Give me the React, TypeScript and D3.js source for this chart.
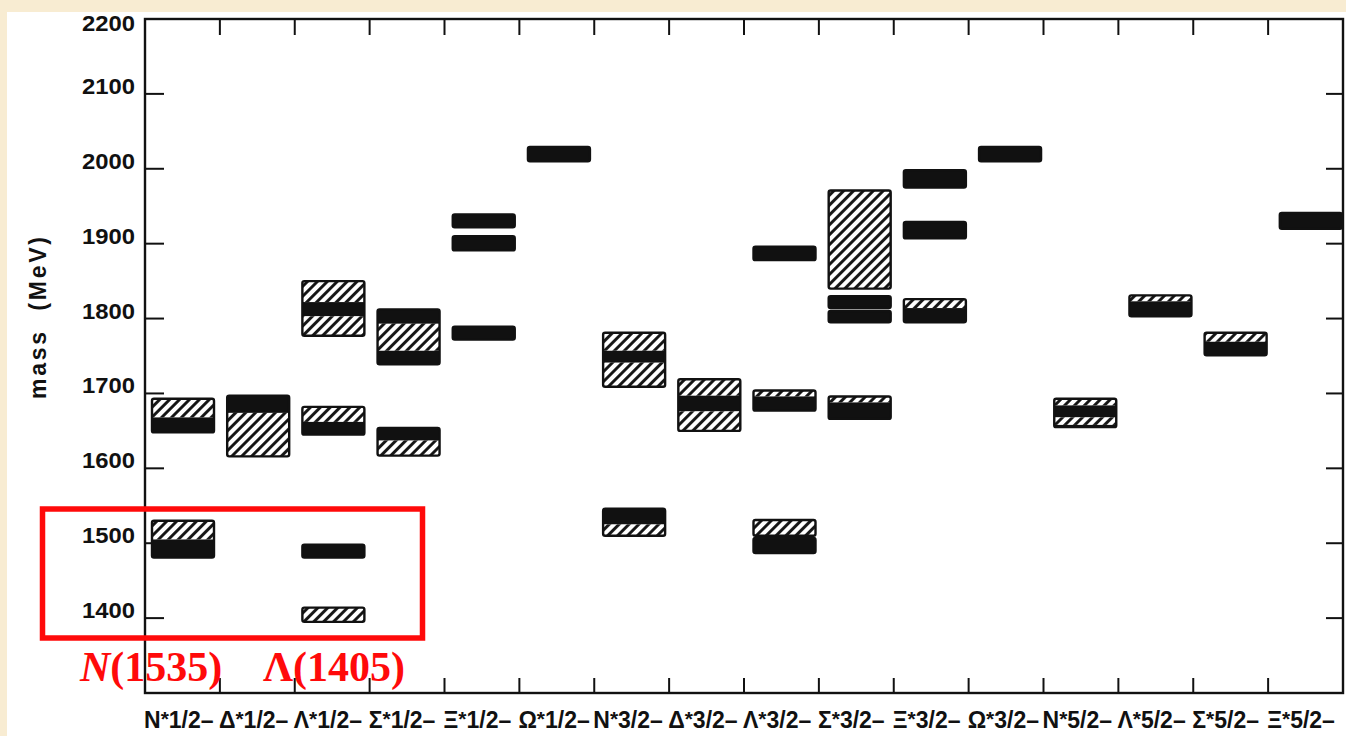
import React from "react";
import * as d3 from "d3";

// ---- data ----
const baryons = ["N", "Δ", "Λ", "Σ", "Ξ", "Ω", "N", "Δ", "Λ", "Σ", "Ξ", "Ω", "N", "Λ", "Σ", "Ξ"];
const spins = ["1/2", "1/2", "1/2", "1/2", "1/2", "1/2", "3/2", "3/2", "3/2", "3/2", "3/2", "3/2", "5/2", "5/2", "5/2", "5/2"];
const massTicks = [1400, 1500, 1600, 1700, 1800, 1900, 2000, 2100, 2200];

// each box: category index, band edges in MeV (top to bottom), band kinds (h = hatched, s = solid)
const boxCategory = [
  0, 0,
  1,
  2, 2, 2, 2,
  3, 3,
  4, 4, 4,
  5,
  6, 6,
  7,
  8, 8, 8, 8,
  9, 9, 9, 9,
  10, 10, 10,
  11,
  12,
  13,
  14,
  15,
];
const boxEdges = [
  [1693, 1668, 1648], [1530, 1505, 1481],
  [1697, 1674, 1616],
  [1850, 1822, 1803, 1777], [1682, 1662, 1645], [1498, 1481], [1414, 1395],
  [1812, 1793, 1757, 1739], [1654, 1637, 1617],
  [1939, 1922], [1910, 1891], [1789, 1772],
  [2029, 2010],
  [1781, 1757, 1741, 1709], [1546, 1525, 1510],
  [1719, 1697, 1676, 1650],
  [1896, 1878], [1704, 1696, 1677], [1531, 1510], [1507, 1487],
  [1971, 1840], [1830, 1814], [1810, 1795], [1696, 1688, 1666],
  [1998, 1975], [1929, 1907], [1826, 1814, 1795],
  [2029, 2010],
  [1693, 1684, 1668, 1658, 1655],
  [1831, 1823, 1803],
  [1781, 1769, 1751],
  [1941, 1920],
];
const boxKinds = [
  "hs", "hs",
  "sh",
  "hsh", "hs", "s", "h",
  "shs", "sh",
  "s", "s", "s",
  "s",
  "hsh", "sh",
  "hsh",
  "s", "hs", "h", "s",
  "h", "s", "s", "hs",
  "s", "s", "hs",
  "s",
  "hshs",
  "hs",
  "hs",
  "s",
];

const annotationLabels = ["N(1535)", "Λ(1405)"];

// ---- layout ----
const W = 1346;
const H = 736;
const FRAME_L = 145;
const FRAME_R = 1343;
const FRAME_T = 19;
const FRAME_B = 693;

export default function App() {
  const cats = d3.range(baryons.length);
  const y = d3.scaleLinear().domain([1300, 2200]).range([FRAME_B, FRAME_T]);
  const xFrame = d3.scaleBand<number>().domain(cats).range([FRAME_L, FRAME_R]);
  const xBox = d3.scaleBand<number>().domain(cats).range([152, 1355]);
  const boxW = 62;
  const ink = "#111";
  const sans = "'Liberation Sans', Arial, Helvetica, sans-serif";
  const serif = "'Liberation Serif', 'Times New Roman', serif";

  return (
    <svg
      width={W}
      height={H}
      viewBox={`0 0 ${W} ${H}`}
      style={{ position: "absolute", left: 0, top: 0, display: "block" }}
    >
      <defs>
        <pattern id="hatch" patternUnits="userSpaceOnUse" width={7} height={7} patternTransform="rotate(45)">
          <rect x={0} y={0} width={7} height={7} fill="#fff" />
          <line x1={3.5} y1={-1} x2={3.5} y2={8} stroke={ink} strokeWidth={2.9} />
        </pattern>
      </defs>

      {/* paper */}
      <rect x={0} y={0} width={W} height={H} fill="#f8ecd2" />
      <rect x={7} y={12} width={W - 7} height={H - 12} fill="#fff" />

      {/* frame */}
      <rect
        x={FRAME_L}
        y={FRAME_T}
        width={FRAME_R - FRAME_L}
        height={FRAME_B - FRAME_T}
        fill="none"
        stroke={ink}
        strokeWidth={2.4}
      />

      {/* y ticks left & right */}
      {massTicks.filter((t) => t < 2200).map((t) => (
        <g key={"yt" + t}>
          <line x1={FRAME_L} x2={FRAME_L + 19} y1={y(t)} y2={y(t)} stroke={ink} strokeWidth={2} />
          <line x1={FRAME_R - 17} x2={FRAME_R} y1={y(t)} y2={y(t)} stroke={ink} strokeWidth={2} />
        </g>
      ))}
      {massTicks.map((t) => (
        <text
          key={"yl" + t}
          x={135}
          y={y(t) + (t === 2200 ? 12 : 0)}
          textAnchor="end"
          fontFamily={sans}
          fontWeight="bold"
          fontSize={22}
          textLength={53}
          lengthAdjust="spacingAndGlyphs"
          fill={ink}
        >
          {t}
        </text>
      ))}

      {/* x ticks top & bottom at category boundaries */}
      {cats.slice(1).map((c) => {
        const bx = xFrame(c)!;
        return (
          <g key={"xt" + c}>
            <line x1={bx} x2={bx} y1={FRAME_T} y2={FRAME_T + 16} stroke={ink} strokeWidth={2} />
            <line x1={bx} x2={bx} y1={FRAME_B - 15} y2={FRAME_B} stroke={ink} strokeWidth={2} />
          </g>
        );
      })}

      {/* category labels */}
      {cats.map((c) => (
        <text
          key={"cl" + c}
          x={xFrame(c)! - 1}
          y={728}
          fontFamily={sans}
          fontWeight="bold"
          fontSize={23}
          fill={ink}
        >
          {baryons[c]}
          <tspan fontSize={21} dy={-2}>*</tspan>
          <tspan dy={2}>{spins[c] + "–"}</tspan>
        </text>
      ))}

      {/* axis title */}
      <text
        transform={`translate(46,318) rotate(-90)`}
        textAnchor="middle"
        fontFamily={sans}
        fontWeight="bold"
        fontSize={23}
        textLength={162}
        lengthAdjust="spacing"
        fill={ink}
      >
        {"mass\u00a0\u00a0(MeV)"}
      </text>

      {/* mass boxes */}
      {boxEdges.map((edges, k) => {
        const x0 = xBox(boxCategory[k])!;
        const kinds = boxKinds[k];
        const top = y(edges[0]);
        const bottom = y(edges[edges.length - 1]);
        return (
          <g key={"box" + k}>
            {kinds.split("").map((kind, j) => {
              const y0 = y(edges[j]);
              const y1 = y(edges[j + 1]);
              return (
                <rect
                  key={j}
                  x={x0}
                  y={y0}
                  width={boxW}
                  height={y1 - y0}
                  fill={kind === "s" ? ink : "url(#hatch)"}
                />
              );
            })}
            <rect
              x={x0}
              y={top}
              width={boxW}
              height={bottom - top}
              rx={2}
              fill="none"
              stroke={ink}
              strokeWidth={2.4}
            />
          </g>
        );
      })}

      {/* red annotation */}
      <rect x={42.5} y={509} width={380} height={129} fill="none" stroke="#ff0a0a" strokeWidth={5.5} />
      <text x={80} y={681} fontFamily={serif} fontWeight="bold" fontSize={42} fill="#ff0a0a">
        <tspan fontStyle="italic">{annotationLabels[0].charAt(0)}</tspan>
        {annotationLabels[0].slice(1)}
      </text>
      <text x={263} y={681} fontFamily={serif} fontWeight="bold" fontSize={42} fill="#ff0a0a">
        {annotationLabels[1]}
      </text>
    </svg>
  );
}
